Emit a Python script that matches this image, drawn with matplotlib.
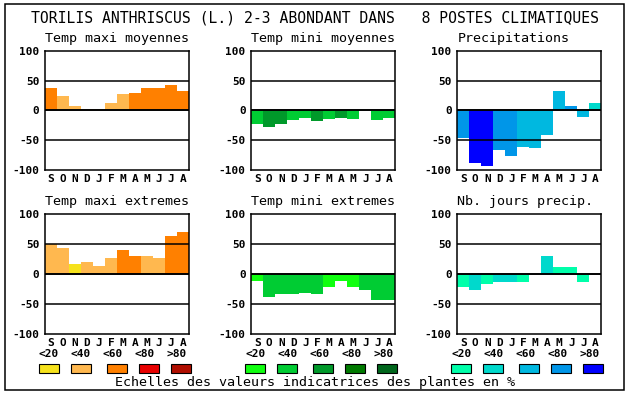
import matplotlib
matplotlib.use("Agg")
import matplotlib.pyplot as plt
from matplotlib.patches import Rectangle

W, H = 630, 394

mois = ["S", "O", "N", "D", "J", "F", "M", "A", "M", "J", "J", "A"]
classes = ["<20", "<40", "<60", "<80", ">80"]

# palettes des classes (0..4)
oranges = ["#f6e21c", "#ffb84f", "#ff8000", "#e80000", "#b00e00"]
verts = ["#10ff10", "#00cc33", "#00992a", "#007a00", "#00661c"]
bleus = ["#00ffaa", "#00d9cc", "#00b8e0", "#0096e8", "#0000ff"]

# valeurs
tmax_moy = [37, 25, 7, 2, 2, 13, 27, 30, 37, 37, 43, 33]
tmax_moy_cl = [2, 1, 1, 1, 1, 1, 1, 2, 2, 2, 2, 2]
tmin_moy = [-23, -27, -23, -16, -12, -18, -14, -13, -14, 0, -16, -13]
tmin_moy_cl = [1, 2, 2, 1, 1, 2, 1, 2, 1, 1, 1, 1]
precip = [-46, -88, -93, -66, -76, -61, -63, -41, 32, 7, -11, 13]
precip_cl = [3, 4, 4, 3, 3, 2, 2, 2, 2, 3, 2, 1]
tmax_ext = [50, 44, 16, 21, 14, 27, 41, 31, 31, 27, 64, 71]
tmax_ext_cl = [1, 1, 0, 1, 1, 1, 2, 2, 1, 1, 2, 2]
tmin_ext = [-12, -38, -33, -33, -31, -34, -21, -12, -21, -27, -44, -44]
tmin_ext_cl = [0, 1, 1, 1, 1, 1, 0, 0, 0, 1, 1, 1]
nb_jours = [-22, -26, -16, -14, -14, -14, 0, 31, 11, 11, -14, 0]
nb_jours_cl = [0, 1, 0, 1, 1, 0, 0, 1, 0, 0, 0, 0]

titre = "TORILIS ANTHRISCUS (L.) 2-3 ABONDANT DANS   8 POSTES CLIMATIQUES"
pied = "Echelles des valeurs indicatrices des plantes en %"

panneaux = [
    ("Temp maxi moyennes", tmax_moy, tmax_moy_cl, oranges, 45, 50.7),
    ("Temp mini moyennes", tmin_moy, tmin_moy_cl, verts, 251.3, 50.7),
    ("Precipitations", precip, precip_cl, bleus, 457.3, 50.7),
    ("Temp maxi extremes", tmax_ext, tmax_ext_cl, oranges, 45, 214.3),
    ("Temp mini extremes", tmin_ext, tmin_ext_cl, verts, 251.3, 214.3),
    ("Nb. jours precip.", nb_jours, nb_jours_cl, bleus, 457.3, 214.3),
]

MONO = "DejaVu Sans Mono"


def fx(x):
    return x / W


def fy(y):
    return 1 - y / H


fig = plt.figure(figsize=(W / 100, H / 100), dpi=100)
fig.patch.set_facecolor("white")

# cadre general
fig.patches.append(Rectangle((fx(5), fy(390)), fx(619), (390 - 4) / H,
                             transform=fig.transFigure, fill=False,
                             edgecolor="black", linewidth=1.1))

fig.text(fx(315), fy(18), titre, ha="center", va="center",
         family=MONO, fontsize=10.6, color="black")

ax_w, ax_h = 144, 119.5
for nom, vals, cl, pal, x0, y0 in panneaux:
    ax = fig.add_axes([fx(x0), fy(y0 + ax_h), ax_w / W, ax_h / H])
    couleurs = [pal[c] for c in cl]
    ax.bar(range(12), vals, width=1.0, color=couleurs, linewidth=0, zorder=1)
    for yy, lw in [(-50, 1.1), (50, 1.1), (0, 1.4)]:
        ax.axhline(yy, color="black", linewidth=lw, zorder=3)
    ax.set_xlim(-0.5, 11.5)
    ax.set_ylim(-100, 100)
    ax.set_yticks([-100, -50, 0, 50, 100])
    ax.set_yticklabels(["-100", "-50", "0", "50", "100"], family=MONO,
                       fontweight="bold", fontsize=8)
    ax.set_xticks(range(12))
    ax.set_xticklabels(mois, family=MONO, fontweight="bold", fontsize=8)
    ax.tick_params(length=0, pad=4)
    ax.tick_params(axis="x", pad=3)
    for s in ax.spines.values():
        s.set_linewidth(1.1)
    fig.text(fx(x0), fy(y0 - 12.5), nom, ha="left", va="center",
             family=MONO, fontsize=9.6)

    # legende des classes sous la rangee du bas
    if y0 > 100:
        decal = [-6, 26, 62, 94, 126]
        for i in range(5):
            fig.text(fx(x0 + 4 + 32 * i), fy(354.3), classes[i],
                     ha="center", va="center", family=MONO,
                     fontweight="bold", fontsize=8)
            fig.patches.append(Rectangle((fx(x0 + decal[i]), fy(373)),
                                         20 / W, 9 / H,
                                         transform=fig.transFigure,
                                         facecolor=pal[i], edgecolor="black",
                                         linewidth=0.8))

fig.text(fx(315), fy(382.7), pied, ha="center", va="center",
         family=MONO, fontsize=9.6)

fig.savefig("out.png", dpi=100)
